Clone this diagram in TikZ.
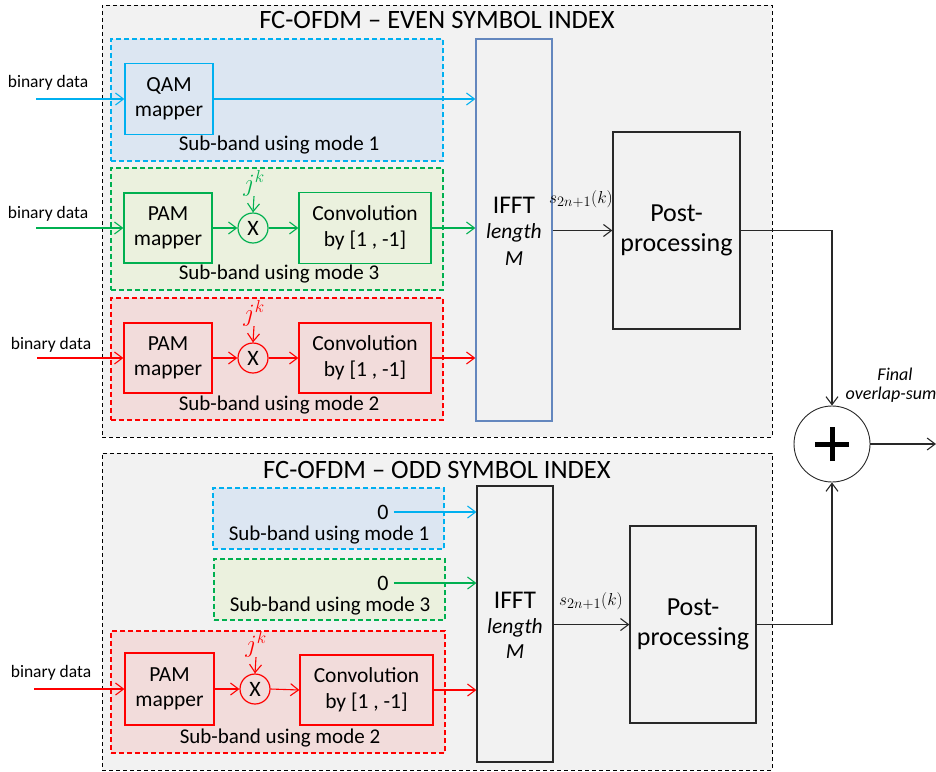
\documentclass[tikz,border=0pt]{standalone}
\usepackage{fontspec}
\setmainfont{Carlito}
\usetikzlibrary{arrows.meta}
\definecolor{cblue}{RGB}{0,176,240}
\definecolor{cgreen}{RGB}{0,176,80}
\definecolor{cred}{RGB}{255,0,0}
\definecolor{fblue}{RGB}{220,230,242}
\definecolor{fgreen}{RGB}{235,241,222}
\definecolor{fred}{RGB}{242,220,219}
\definecolor{fgray}{RGB}{242,242,242}
\definecolor{ifftblue}{RGB}{100,135,190}
\definecolor{dgray}{RGB}{40,40,40}
\newcommand\fsz[2]{\fontsize{#1}{#2}\selectfont}
\begin{document}
\begin{tikzpicture}[x=1pt,y=-1pt,
  outerbox/.style={draw=black, fill=fgray, dash pattern=on 4pt off 3pt, line width=0.9pt, inner sep=0pt},
  subbox/.style={dash pattern=on 5pt off 3pt, line width=1.1pt, inner sep=0pt},
  blk/.style={draw, line width=1.2pt, inner sep=0pt, align=center, font=\fsz{21.5}{25.5}},
  mulc/.style={circle, draw, line width=1.2pt, inner sep=0pt, minimum size=30pt, font=\fsz{22}{24}},
  lbl/.style={inner sep=0pt, font=\fsz{21}{23}},
  bin/.style={inner sep=0pt, font=\fsz{17.5}{20}},
  jk/.style={inner sep=0pt, font=\fsz{24}{26}},
  arr/.style={line width=1.1pt, -{Straight Barb[length=8pt,width=12pt]}},
  ln/.style={line width=1.1pt}]
\useasboundingbox (0,0) rectangle (936,771);

% ================= EVEN =================
\node[outerbox, minimum width=670pt, minimum height=432pt] (outerE) at (437,221) {};
\node[inner sep=0pt, font=\fsz{26.5}{28}] (titleE) at (437,20) {FC-OFDM -- EVEN SYMBOL INDEX};

\node[subbox, draw=cblue, fill=fblue, minimum width=332pt, minimum height=122pt] (sbE1) at (277,100) {};
\node[subbox, draw=cgreen, fill=fgreen, minimum width=332pt, minimum height=122pt] (sbE3) at (277,229) {};
\node[subbox, draw=cred, fill=fred, minimum width=332pt, minimum height=122pt] (sbE2) at (277,359) {};

\node[lbl] (lE1) at (279,145) {Sub-band using mode 1};
\node[lbl] (lE3) at (279,274) {Sub-band using mode 3};
\node[lbl] (lE2) at (279,405) {Sub-band using mode 2};

\node[blk, draw=cblue, minimum width=88pt, minimum height=71pt] (qam) at (169,99) {QAM\\mapper};

\node[blk, draw=cgreen, minimum width=88pt, minimum height=70pt] (pamE3) at (168,228) {PAM\\mapper};
\node[mulc, draw=cgreen] (mulE3) at (253,228) {X};
\node[jk, text=cgreen] (jkE3) at (254,183) {$j^k$};
\node[blk, draw=cgreen, minimum width=132pt, minimum height=71pt] (convE3) at (365,228) {Convolution\\by [1 , -1]};

\node[blk, draw=cred, minimum width=88pt, minimum height=70pt] (pamE2) at (168,358) {PAM\\mapper};
\node[mulc, draw=cred] (mulE2) at (253,358) {X};
\node[jk, text=cred] (jkE2) at (254,313) {$j^k$};
\node[blk, draw=cred, minimum width=132pt, minimum height=70pt] (convE2) at (365,358) {Convolution\\by [1 , -1]};

\node[draw=ifftblue, line width=1.2pt, minimum width=76pt, minimum height=382pt, inner sep=0pt] (ifftE) at (514,230) {};
\node[inner sep=0pt, font=\fsz{25.5}{27}] (ifftEt) at (514,205) {IFFT};
\node[inner sep=0pt, font=\fsz{21.5}{23}\itshape] (ifftEl) at (514,233) {length};
\node[inner sep=0pt, font=\fsz{21.5}{23}\itshape] (ifftEm) at (514,259) {M};

\node[blk, draw=dgray, minimum width=127pt, minimum height=197pt, font=\fsz{26}{30}] (postE) at (676.5,230.5) {Post-\\processing};
\node[inner sep=0pt, font=\fsz{19}{21}] (sE) at (581,199) {$s_{2n+1}(k)$};

% binary data inputs (even)
\node[bin] (bE1) at (48,83) {binary data};
\node[bin] (bE3) at (48,214) {binary data};
\node[bin] (bE2) at (51,345) {binary data};
\coordinate (iE1) at (36,99);
\coordinate (iE3) at (36,228);
\coordinate (iE2) at (37,358);

\draw[arr, draw=cblue] (iE1) -- (qam.west);
\draw[arr, draw=cblue] (qam.east) -- (qam.east -| ifftE.west);

\draw[arr, draw=cgreen] (iE3) -- (pamE3.west);
\draw[arr, draw=cgreen] (pamE3.east) -- (mulE3.west);
\draw[arr, draw=cgreen] (jkE3.south) -- (mulE3.north);
\draw[arr, draw=cgreen] (mulE3.east) -- (convE3.west);
\draw[arr, draw=cgreen] (convE3.east) -- (convE3.east -| ifftE.west);

\draw[arr, draw=cred] (iE2) -- (pamE2.west);
\draw[arr, draw=cred] (pamE2.east) -- (mulE2.west);
\draw[arr, draw=cred] (jkE2.south) -- (mulE2.north);
\draw[arr, draw=cred] (mulE2.east) -- (convE2.west);
\draw[arr, draw=cred] (convE2.east) -- (convE2.east -| ifftE.west);

\draw[arr, draw=dgray] (ifftE.east |- postE.west) -- (postE.west);

% ================= ODD =================
\node[outerbox, minimum width=670pt, minimum height=317pt] (outerO) at (437,611.5) {};
\node[inner sep=0pt, font=\fsz{26.5}{28}] (titleO) at (437,470) {FC-OFDM -- ODD SYMBOL INDEX};

\node[subbox, draw=cblue, fill=fblue, minimum width=231pt, minimum height=61pt] (sbO1) at (328.5,518.5) {};
\node[subbox, draw=cgreen, fill=fgreen, minimum width=231pt, minimum height=61pt] (sbO3) at (329.5,589.5) {};
\node[subbox, draw=cred, fill=fred, minimum width=334pt, minimum height=122pt] (sbO2) at (278,692) {};

\node[lbl, font=\fsz{22}{24}, inner xsep=5pt] (zO1) at (383,512) {0};
\node[lbl] (lO1) at (329,535) {Sub-band using mode 1};
\node[lbl, font=\fsz{22}{24}, inner xsep=5pt] (zO3) at (383,583) {0};
\node[lbl] (lO3) at (330,606) {Sub-band using mode 3};
\node[lbl] (lO2) at (280,738) {Sub-band using mode 2};

\node[blk, draw=cred, minimum width=89pt, minimum height=72pt] (pamO) at (169.5,689) {PAM\\mapper};
\node[mulc, draw=cred] (mulO) at (255,689) {X};
\node[jk, text=cred] (jkO) at (256,644) {$j^k$};
\node[blk, draw=cred, minimum width=133pt, minimum height=70pt] (convO) at (366.5,690) {Convolution\\by [1 , -1]};

\node[draw=dgray, line width=1.2pt, minimum width=76pt, minimum height=276pt, inner sep=0pt] (ifftO) at (515,624) {};
\node[inner sep=0pt, font=\fsz{25.5}{27}] (ifftOt) at (515,600) {IFFT};
\node[inner sep=0pt, font=\fsz{21.5}{23}\itshape] (ifftOl) at (515,628) {length};
\node[inner sep=0pt, font=\fsz{21.5}{23}\itshape] (ifftOm) at (515,652) {M};

\node[blk, draw=dgray, minimum width=126pt, minimum height=197pt, font=\fsz{26}{30}] (postO) at (693,624.5) {Post-\\processing};
\node[inner sep=0pt, font=\fsz{19}{21}] (sO) at (591,601) {$s_{2n+1}(k)$};

\node[bin] (bO2) at (51,673) {binary data};
\coordinate (iO2) at (34,689);

\draw[arr, draw=cblue] (zO1.east) -- (zO1.east -| ifftO.west);
\draw[arr, draw=cgreen] (zO3.east) -- (zO3.east -| ifftO.west);
\draw[arr, draw=cred] (iO2) -- (pamO.west);
\draw[arr, draw=cred] (pamO.east) -- (mulO.west);
\draw[arr, draw=cred] (jkO.south) -- (mulO.north);
\draw[arr, draw=cred] (mulO.east) -- (convO.west);
\draw[arr, draw=cred] (convO.east) -- (convO.east -| ifftO.west);

\draw[arr, draw=dgray] (ifftO.east |- postO.west) -- (postO.west);

% ================= SUM =================
\node[circle, draw=dgray, line width=0.9pt, minimum size=76pt, inner sep=0pt] (sum) at (832,444) {};
\draw[line width=5pt] ([xshift=-17pt]sum.center) -- ([xshift=17pt]sum.center);
\draw[line width=5pt] ([yshift=-17pt]sum.center) -- ([yshift=17pt]sum.center);
\node[inner sep=0pt, font=\fsz{18}{20}\itshape] (fin1) at (895,374) {Final};
\node[inner sep=0pt, font=\fsz{18}{20}\itshape] (fin2) at (891,395) {overlap-sum};
\coordinate (out) at (936,444);

\draw[arr, draw=dgray] (postE.east) -- (postE.east -| sum.north) -- (sum.north);
\draw[arr, draw=dgray] (postO.east) -- (postO.east -| sum.south) -- (sum.south);
\draw[arr, draw=dgray] (sum.east) -- (out);
\end{tikzpicture}
\end{document}
